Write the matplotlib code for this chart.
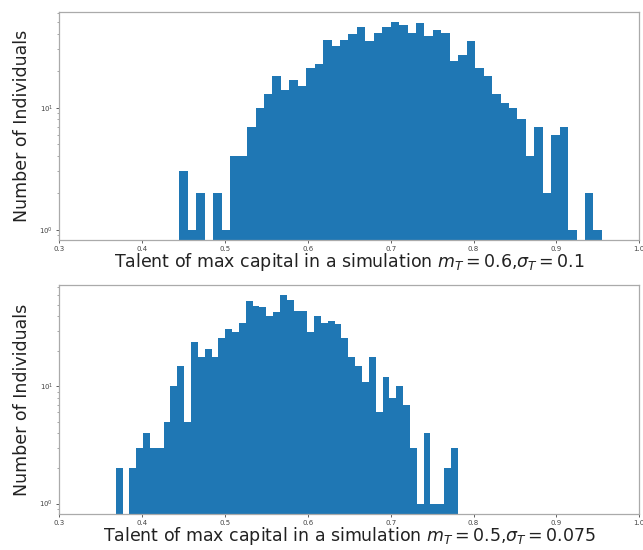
import numpy as np
import matplotlib
matplotlib.use("Agg")
import matplotlib.pyplot as plt

# ---- data ----
top_counts = [3, 1, 2, 0, 2, 1, 4, 4, 7, 10,
              13, 18, 14, 17, 15, 21, 23, 36, 32, 36,
              40, 46, 35, 41, 46, 50, 48, 41, 49, 39,
              43, 41, 24, 27, 35, 21, 18, 13, 11, 10,
              8, 4, 7, 2, 6, 7, 1, 0, 2, 1]
top_range = (0.445, 0.955)
top_label = r"Talent of max capital in a simulation $m_T = 0.6$,$\sigma_T = 0.1$"

bottom_counts = [2, 0, 2, 3, 4, 3, 3, 5, 10, 15,
                 5, 24, 18, 21, 18, 26, 31, 29, 35, 54,
                 49, 48, 40, 43, 60, 55, 44, 44, 29, 40,
                 35, 36, 34, 26, 18, 15, 11, 18, 6, 12,
                 8, 10, 7, 3, 1, 4, 1, 1, 2, 3]
bottom_range = (0.368, 0.781)
bottom_label = r"Talent of max capital in a simulation $m_T = 0.5$,$\sigma_T = 0.075$"

x_ticks = [0.3, 0.4, 0.5, 0.6, 0.7, 0.8, 0.9, 1.0]
x_tick_labels = ["0.3", "0.4", "0.5", "0.6", "0.7", "0.8", "0.9", "1.0"]
y_label = "Number of Individuals"

BAR_COLOR = "#1f77b4"

fig = plt.figure(figsize=(6.43, 5.5), dpi=100)
ax_top = fig.add_axes([0.0924, 0.5636, 0.9016, 0.4146])
ax_bot = fig.add_axes([0.0924, 0.0655, 0.9016, 0.4165])


def draw(ax, counts, rng, label):
    counts = np.asarray(counts, dtype=float)
    edges = np.linspace(rng[0], rng[1], len(counts) + 1)
    ax.set_yscale("log")
    ax.bar(edges[:-1], counts, width=np.diff(edges), align="edge",
           color=BAR_COLOR, linewidth=0)
    L = np.log10(counts.max())
    ax.set_ylim(10 ** (-0.05 * L), 10 ** (1.05 * L))
    ax.set_xlim(0.3, 1.0)
    ax.set_xticks(x_ticks)
    ax.set_xticklabels(x_tick_labels)
    ax.tick_params(axis="both", which="major", labelsize=5, length=2.5,
                   width=0.6, pad=2, colors="#444444")
    ax.tick_params(axis="both", which="minor", length=1.5, width=0.4,
                   colors="#666666")
    for s in ax.spines.values():
        s.set_color("#aaaaaa")
        s.set_linewidth(0.9)
    ax.set_xlabel(label, fontsize=12.5, labelpad=-1, color="#222222")
    ax.set_ylabel(y_label, fontsize=12.5, labelpad=6, color="#222222")


draw(ax_top, top_counts, top_range, top_label)
draw(ax_bot, bottom_counts, bottom_range, bottom_label)

fig.savefig("out.png", dpi=100)
